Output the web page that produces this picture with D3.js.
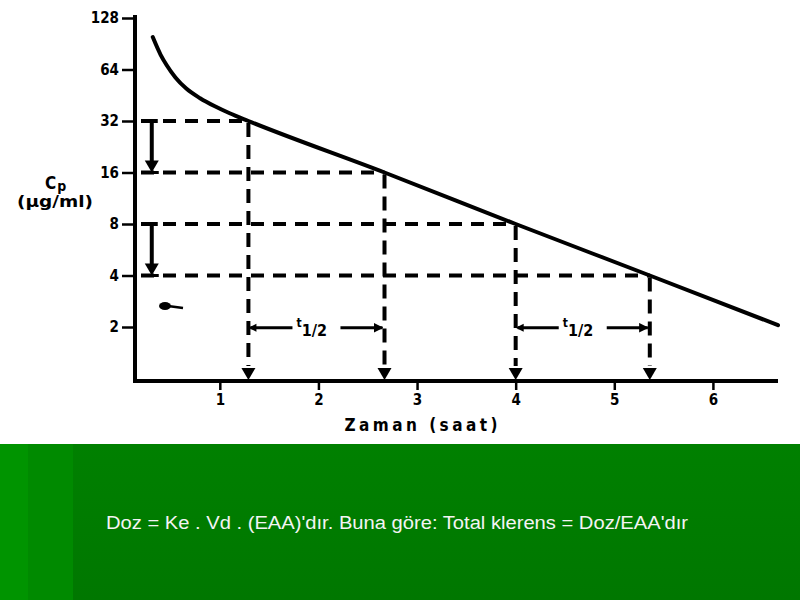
<!DOCTYPE html>
<html><head><meta charset="utf-8">
<script src="https://cdn.jsdelivr.net/npm/d3@7"></script>
<style>
html,body{margin:0;padding:0;background:#fff;}
svg{display:block;}
</style></head>
<body>
<svg id="chart" width="800" height="600"></svg>
<script>
// ---- data ----
const yTicks = [2, 4, 8, 16, 32, 64, 128];
const xTicks = [1, 2, 3, 4, 5, 6];
const curveT = [0.32, 0.40, 0.46, 0.55, 0.66, 0.80, 0.95, 1.10, 1.29, 2.67, 4.0, 5.36, 6.66];
const curveC = [99, 78, 68, 57.5, 49.5, 43.5, 39, 35.5, 32, 16, 8, 4, 2.05];
const halfT = [1.29, 2.67, 4.0, 5.36];
const halfC = [32, 16, 8, 4];
const yTitle = ["C", "p", "(μg/ml)"];
const xTitle = "Zaman (saat)";
const note = "Doz = Ke . Vd . (EAA)'dır. Buna göre: Total klerens = Doz/EAA'dır";

const svg = d3.select("#chart");
const x = d3.scaleLinear().domain([0.14, 6.66]).range([135, 778]);
const y = d3.scaleLog().base(2).domain([0.967, 128]).range([381, 18]);
const font = "'DejaVu Sans Condensed','DejaVu Sans',sans-serif";

const defs = svg.append("defs");
defs.append("marker").attr("id","ah").attr("viewBox","0 0 10 10").attr("refX",9).attr("refY",5)
  .attr("markerWidth",3.2).attr("markerHeight",3.2).attr("orient","auto")
  .append("path").attr("d","M0,0 L10,5 L0,10 z").attr("fill","#000");

// axes
const yAxis = d3.axisLeft(y).tickValues(yTicks).tickSize(13).tickPadding(3).tickFormat(d3.format("d"));
const gy = svg.append("g").attr("transform","translate(135,0)").call(yAxis);
gy.select(".domain").attr("d","M0,15 V383").attr("stroke","#000").attr("stroke-width",4);
gy.selectAll(".tick line").attr("stroke","#000").attr("stroke-width",2.5);
gy.selectAll(".tick text").attr("font-family",font).attr("font-weight","bold").attr("font-size",15).attr("fill","#000");

const xAxis = d3.axisBottom(x).tickValues(xTicks).tickSize(9).tickPadding(4).tickFormat(d3.format("d"));
const gx = svg.append("g").attr("transform","translate(0,381)").call(xAxis);
gx.select(".domain").attr("d","M133,0 H778").attr("stroke","#000").attr("stroke-width",4);
gx.selectAll(".tick line").attr("stroke","#000").attr("stroke-width",2.5);
gx.selectAll(".tick text").attr("font-family",font).attr("font-weight","bold").attr("font-size",15).attr("fill","#000");

// axis titles
svg.append("text").attr("x",421).attr("y",431).attr("text-anchor","middle")
  .attr("font-family",font).attr("font-weight","bold").attr("font-size",17)
  .attr("textLength",153).attr("lengthAdjust","spacing").text(xTitle);
const cp = svg.append("text").attr("x",45).attr("y",189).attr("font-family",font).attr("font-weight","bold").attr("font-size",17);
cp.append("tspan").text(yTitle[0]);
cp.append("tspan").attr("dy",2).attr("dx",1).attr("font-size",14).text(yTitle[1]);
svg.append("text").attr("x",55).attr("y",207).attr("text-anchor","middle")
  .attr("font-family",font).attr("font-weight","bold").attr("font-size",15)
  .attr("textLength",76).attr("lengthAdjust","spacingAndGlyphs").text(yTitle[2]);

// dashed guides
const dash = "13,9";
halfT.forEach((t, i) => {
  svg.append("line").attr("x1",141).attr("x2",x(t)).attr("y1",y(halfC[i])).attr("y2",y(halfC[i]))
    .attr("stroke","#000").attr("stroke-width",4).attr("stroke-dasharray",dash);
  svg.append("line").attr("x1",x(t)).attr("x2",x(t)).attr("y1",y(halfC[i])+2).attr("y2",366)
    .attr("stroke","#000").attr("stroke-width",4).attr("stroke-dasharray","14,8");
  svg.append("path").attr("d",`M${x(t)-7},368 L${x(t)+7},368 L${x(t)},380 z`).attr("fill","#000");
});

// vertical halving arrows near y axis
[[32,16],[8,4]].forEach(([a,b]) => {
  const xx = x(0.31);
  svg.append("line").attr("x1",xx-6).attr("x2",xx+6).attr("y1",y(a)).attr("y2",y(a)).attr("stroke","#000").attr("stroke-width",4);
  svg.append("line").attr("x1",xx).attr("x2",xx).attr("y1",y(a)).attr("y2",y(b)-10).attr("stroke","#000").attr("stroke-width",4);
  svg.append("path").attr("d",`M${xx-7},${y(b)-12} L${xx+7},${y(b)-12} L${xx},${y(b)} z`).attr("fill","#000");
  svg.append("line").attr("x1",xx-7).attr("x2",xx+7).attr("y1",y(b)).attr("y2",y(b)).attr("stroke","#000").attr("stroke-width",3);
});

// t1/2 arrows
[[0,1],[2,3]].forEach(([i,j]) => {
  const x1 = x(halfT[i]), x2 = x(halfT[j]), yy = y(1.98), xm = (x1+x2)/2;
  svg.append("line").attr("x1",x1+2).attr("x2",xm-24).attr("y1",yy).attr("y2",yy).attr("stroke","#000").attr("stroke-width",3);
  svg.append("path").attr("d",`M${x1},${yy} L${x1+8},${yy-4} L${x1+8},${yy+4} z`).attr("fill","#000");
  svg.append("line").attr("x1",xm+24).attr("x2",x2-2).attr("y1",yy).attr("y2",yy).attr("stroke","#000").attr("stroke-width",3).attr("marker-end","url(#ah)");
  const tt = svg.append("text").attr("x",xm-20).attr("y",yy+2).attr("font-family",font).attr("font-weight","bold").attr("font-size",14);
  tt.append("tspan").attr("font-size",12).attr("dy",-3).text("t");
  tt.append("tspan").attr("dy",9).attr("font-size",16).text("1/2");
});

// curve
const pts = curveT.map((t,i)=>[x(t), y(curveC[i])]);
svg.append("path").attr("d", d3.line().curve(d3.curveMonotoneX)(pts))
  .attr("fill","none").attr("stroke","#000").attr("stroke-width",4).attr("stroke-linecap","round");

// scan blob
svg.append("ellipse").attr("cx",165).attr("cy",306).attr("rx",6).attr("ry",4).attr("fill","#000");
svg.append("line").attr("x1",168).attr("x2",183).attr("y1",306).attr("y2",308).attr("stroke","#000").attr("stroke-width",2.5);

// green band
const grad = defs.append("linearGradient").attr("id","g1").attr("x1",0).attr("y1",0).attr("x2",0).attr("y2",1);
grad.append("stop").attr("offset",0).attr("stop-color","#008000");
grad.append("stop").attr("offset",1).attr("stop-color","#007700");
svg.append("rect").attr("x",0).attr("y",444).attr("width",800).attr("height",156).attr("fill","url(#g1)");
svg.append("rect").attr("x",0).attr("y",444).attr("width",28).attr("height",156).attr("fill","#009400");
svg.append("rect").attr("x",28).attr("y",444).attr("width",45).attr("height",156).attr("fill","#008a00");
svg.append("text").attr("x",106).attr("y",529).attr("fill","#f4f4f4")
  .attr("font-family","'Liberation Sans Narrow','Liberation Sans',Arial,sans-serif").attr("font-size",18)
  .attr("textLength",582).attr("lengthAdjust","spacingAndGlyphs").text(note);
</script>
</body></html>
